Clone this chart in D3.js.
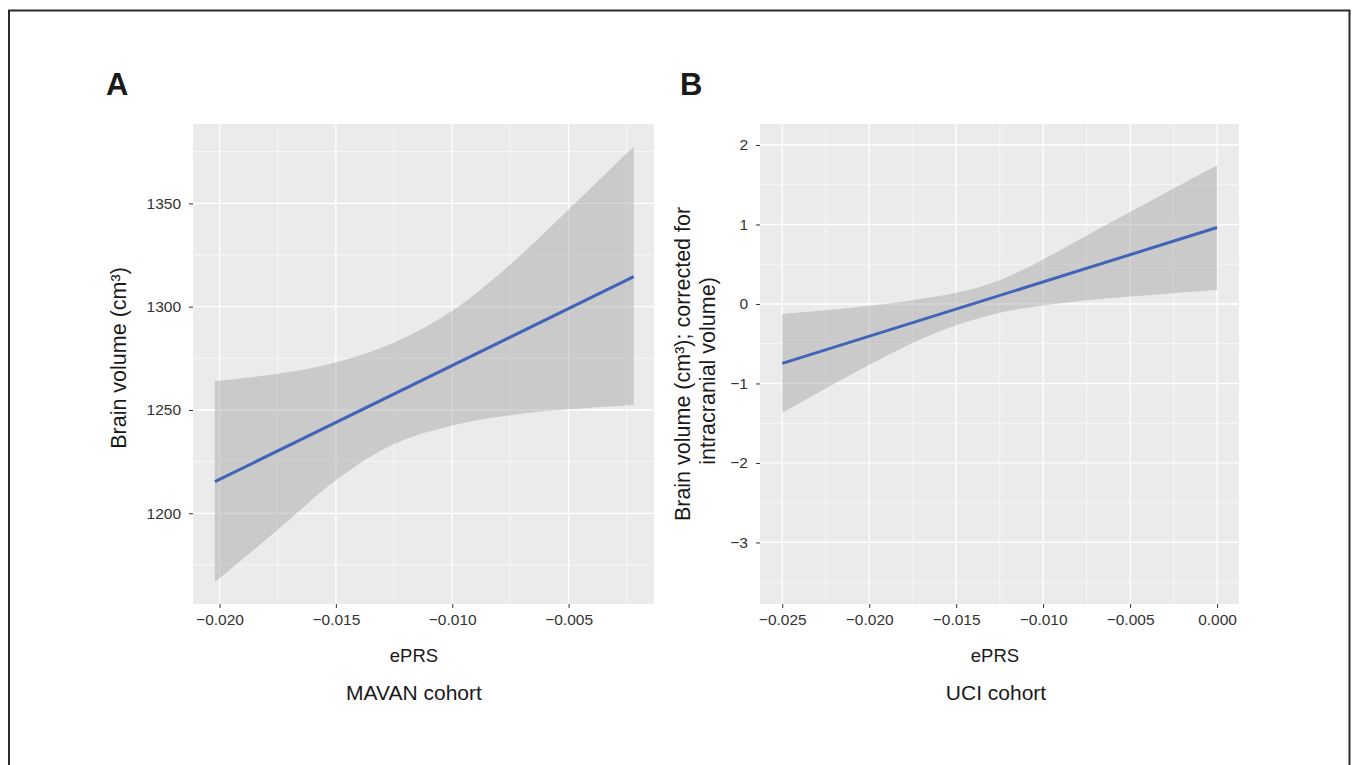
<!DOCTYPE html>
<html>
<head>
<meta charset="utf-8">
<script src="https://cdn.jsdelivr.net/npm/d3@7"></script>
<style>
  body { margin: 0; background: #fff; }
  svg { display: block; font-family: "Liberation Sans", Arial, sans-serif; }
</style>
</head>
<body>
<div id="chart"></div>
<script>
// Panel A (MAVAN cohort) - fitted line and confidence band
const mavanBandX = [-0.0202, -0.0175, -0.015, -0.0125, -0.010, -0.0075, -0.005, -0.0022];
const mavanUpper = [1264, 1267.5, 1273, 1282.5, 1298, 1320.5, 1347, 1377.5];
const mavanLower = [1166.6, 1192, 1216, 1233.5, 1242.5, 1247.5, 1250.3, 1252.4];
const mavanFitX = [-0.0202, -0.0022];
const mavanFit = [1215.3, 1314.5];
const mavanYTicks = [1200, 1250, 1300, 1350];
const mavanXTicks = [-0.020, -0.015, -0.010, -0.005];

// Panel B (UCI cohort)
const uciBandX = [-0.025, -0.0225, -0.020, -0.0175, -0.015, -0.0125, -0.010, -0.0075, -0.005, -0.0025, 0];
const uciUpper = [-0.126, -0.080, -0.022, 0.048, 0.140, 0.300, 0.560, 0.862, 1.158, 1.452, 1.741];
const uciLower = [-1.368, -1.062, -0.765, -0.490, -0.268, -0.110, -0.020, 0.048, 0.094, 0.136, 0.176];
const uciFitX = [-0.025, 0];
const uciFit = [-0.747, 0.962];
const uciYTicks = [-3, -2, -1, 0, 1, 2];
const uciXTicks = [-0.025, -0.020, -0.015, -0.010, -0.005, 0.000];

const width = 1356;
const height = 765;

const svg = d3.select("#chart").append("svg")
    .attr("width", width)
    .attr("height", height)
    .attr("viewBox", [0, 0, width, height]);

// outer frame (bottom edge runs off the picture)
svg.append("path")
    .attr("d", `M9,${height + 5}V10.5H1349.5V${height + 5}`)
    .attr("fill", "none")
    .attr("stroke", "#2a2a2a")
    .attr("stroke-width", 2);

function drawPanel(opts) {
    const { left, right, top, bottom, xDomain, yDomain, xTicks, yTicks, xMinor, yMinor,
            bandX, upper, lower, fitX, fit, yFormat } = opts;

    const x = d3.scaleLinear().domain(xDomain).range([left, right]);
    const y = d3.scaleLinear().domain(yDomain).range([bottom, top]);

    const g = svg.append("g");

    g.append("rect")
        .attr("x", left).attr("y", top)
        .attr("width", right - left).attr("height", bottom - top)
        .attr("fill", "#ebebeb");

    // minor grid
    g.append("g").attr("stroke", "#fff").attr("stroke-width", 0.6)
        .call(s => s.selectAll(".vx").data(xMinor).join("line")
            .attr("x1", d => x(d)).attr("x2", d => x(d)).attr("y1", top).attr("y2", bottom))
        .call(s => s.selectAll(".hy").data(yMinor).join("line")
            .attr("y1", d => y(d)).attr("y2", d => y(d)).attr("x1", left).attr("x2", right));

    // major grid
    g.append("g").attr("stroke", "#fff").attr("stroke-width", 1.3)
        .call(s => s.selectAll(".vx").data(xTicks).join("line")
            .attr("x1", d => x(d)).attr("x2", d => x(d)).attr("y1", top).attr("y2", bottom))
        .call(s => s.selectAll(".hy").data(yTicks).join("line")
            .attr("y1", d => y(d)).attr("y2", d => y(d)).attr("x1", left).attr("x2", right));

    // confidence band
    const band = bandX.map((d, i) => ({ x: d, lo: lower[i], hi: upper[i] }));
    g.append("path")
        .datum(band)
        .attr("fill", "#999999")
        .attr("fill-opacity", 0.4)
        .attr("d", d3.area()
            .curve(d3.curveCatmullRom.alpha(0.5))
            .x(d => x(d.x))
            .y0(d => y(d.lo))
            .y1(d => y(d.hi)));

    // fitted line
    g.append("path")
        .datum(fitX.map((d, i) => ({ x: d, y: fit[i] })))
        .attr("fill", "none")
        .attr("stroke", "#4164b8")
        .attr("stroke-width", 3)
        .attr("d", d3.line().x(d => x(d.x)).y(d => y(d.y)));

    // axes
    g.append("g")
        .attr("transform", `translate(0,${bottom})`)
        .call(d3.axisBottom(x).tickValues(xTicks).tickFormat(d3.format(".3f")).tickSize(4).tickPadding(6))
        .call(a => a.select(".domain").remove())
        .call(a => a.selectAll(".tick line").attr("stroke", "#333"))
        .call(a => a.selectAll(".tick text").attr("fill", "#333").attr("font-size", 15.5)
            .attr("font-family", "Liberation Sans, Arial, sans-serif"));

    g.append("g")
        .attr("transform", `translate(${left},0)`)
        .call(d3.axisLeft(y).tickValues(yTicks).tickFormat(yFormat).tickSize(4).tickPadding(8))
        .call(a => a.select(".domain").remove())
        .call(a => a.selectAll(".tick line").attr("stroke", "#333"))
        .call(a => a.selectAll(".tick text").attr("fill", "#333").attr("font-size", 15.5)
            .attr("font-family", "Liberation Sans, Arial, sans-serif"));
}

drawPanel({
    left: 193, right: 654, top: 124, bottom: 604,
    xDomain: [-0.02114, -0.00133], yDomain: [1156.1, 1388.4],
    xTicks: mavanXTicks, yTicks: mavanYTicks,
    xMinor: [-0.0175, -0.0125, -0.0075, -0.0025],
    yMinor: [1175, 1225, 1275, 1325, 1375],
    bandX: mavanBandX, upper: mavanUpper, lower: mavanLower,
    fitX: mavanFitX, fit: mavanFit,
    yFormat: d3.format("d")
});

drawPanel({
    left: 760, right: 1239, top: 124, bottom: 604,
    xDomain: [-0.02628, 0.00126], yDomain: [-3.774, 2.264],
    xTicks: uciXTicks, yTicks: uciYTicks,
    xMinor: [-0.0225, -0.0175, -0.0125, -0.0075, -0.0025],
    yMinor: [-3.5, -2.5, -1.5, -0.5, 0.5, 1.5],
    bandX: uciBandX, upper: uciUpper, lower: uciLower,
    fitX: uciFitX, fit: uciFit,
    yFormat: d3.format("d")
});

// panel letters
svg.append("text").attr("x", 106).attr("y", 95).attr("font-size", 31).attr("font-weight", "bold")
    .attr("fill", "#1a1a1a").text("A");
svg.append("text").attr("x", 680).attr("y", 95).attr("font-size", 31).attr("font-weight", "bold")
    .attr("fill", "#1a1a1a").text("B");

// axis titles
const title = (x, y, txt, size) => svg.append("text")
    .attr("x", x).attr("y", y)
    .attr("text-anchor", "middle")
    .attr("font-size", size)
    .attr("fill", "#1a1a1a")
    .text(txt);

title(414, 662, "ePRS", 18.5);
title(995, 662, "ePRS", 18.5);
title(414, 700, "MAVAN cohort", 21);
title(996, 700, "UCI cohort", 21);

const vtitle = (x, y, txt) => svg.append("text")
    .attr("transform", `translate(${x},${y}) rotate(-90)`)
    .attr("text-anchor", "middle")
    .attr("font-size", 21.5)
    .attr("fill", "#1a1a1a")
    .text(txt);

vtitle(126, 358, "Brain volume (cm³)");
vtitle(690, 364, "Brain volume (cm³); corrected for");
vtitle(715, 371, "intracranial volume)");
</script>
</body>
</html>
